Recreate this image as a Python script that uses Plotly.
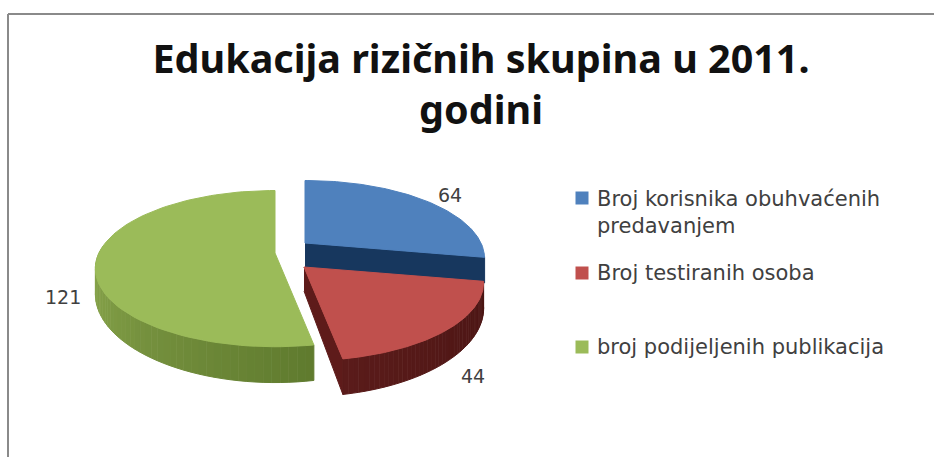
import numpy as np
import plotly.graph_objects as go

categories = ["Broj korisnika obuhvaćenih<br>predavanjem", "Broj testiranih osoba", "broj podijeljenih publikacija"]
values = [64, 44, 121]
value_labels = ["64", "44", "121"]
colors = ["#4F81BD", "#C0504D", "#9BBB59"]
title = "Edukacija rizičnih skupina u 2011.<br>godini"

# view geometry of the tilted pie (pixel-like axes)
apex = [(305, 243), (304, 267), (275, 253)]
A, B, K = 176.0, 75.0, 0.2
DEPTH, KD = 24.0, 0.33

total = sum(values)
edges = np.cumsum([0] + values) / total * 2 * np.pi


def top(i, th):
    X, Y = np.sin(th), np.cos(th)
    den = 1 + K * Y
    return apex[i][0] + A * X / den, apex[i][1] - B * Y / den


def drop(th):
    return DEPTH / (1 + KD * np.cos(th))


def mix(c1, c2, t):
    a = [int(c1[j:j + 2], 16) for j in (1, 3, 5)]
    b = [int(c2[j:j + 2], 16) for j in (1, 3, 5)]
    return "rgb(%d,%d,%d)" % tuple(round(p + (q - p) * t) for p, q in zip(a, b))


fig = go.Figure()


def poly(xs, ys, color):
    fig.add_trace(go.Scatter(x=list(xs), y=list(ys), mode="lines", fill="toself", fillcolor=color,
                             line=dict(color=color, width=1), hoverinfo="skip", showlegend=False))


def side(i, t0, t1, c0, c1, n=48):
    ang = np.linspace(t0, t1, n + 1)
    for j in range(n):
        a = np.linspace(ang[j], ang[j + 1], 4)
        x, y = top(i, a)
        d = drop(a)
        poly(list(x) + list(x[::-1]), list(y) + list((y + d)[::-1]), mix(c0, c1, (j + .5) / n))


def face(i):
    a = np.linspace(edges[i], edges[i + 1], 90)
    x, y = top(i, a)
    poly([apex[i][0]] + list(x) + [apex[i][0]], [apex[i][1]] + list(y) + [apex[i][1]], colors[i])


# green
g0 = 3 * np.pi / 2 + 0.1
side(2, g0, edges[2], "#8FAC50", "#5F7A2E")
face(2)
# blue
bx, by = top(0, edges[1])
poly([apex[0][0], bx, bx, apex[0][0]],
     [apex[0][1], by, by + drop(edges[1]), apex[0][1] + DEPTH + 1], "#17375E")
face(0)
# red
rx, ry = top(1, edges[2])
poly([apex[1][0], rx, rx, apex[1][0]],
     [apex[1][1], ry, ry + drop(edges[2]), apex[1][1] + DEPTH], "#5E1B1A")
side(1, edges[1], edges[2], "#4A1513", "#5A1B1A")
face(1)

# legend
leg_y = [198, 273, 347]
fig.add_trace(go.Scatter(x=[582] * 3, y=leg_y, mode="markers",
                         marker=dict(symbol="square", size=13, color=colors),
                         hoverinfo="skip", showlegend=False))
ann = []
for txt, y, dy in zip(categories, leg_y, [14.5, 0, 0]):
    ann.append(dict(x=595, y=y + dy, text=txt, showarrow=False, xanchor="left", yanchor="middle", align="left",
                    font=dict(family="DejaVu Sans", size=21, color="#404040")))
for txt, x, y in zip(value_labels, [450, 473, 63], [195, 376, 297]):
    ann.append(dict(x=x, y=y, text=txt, showarrow=False, font=dict(family="DejaVu Sans", size=19, color="#404040")))

fig.update_layout(
    width=934, height=457, margin=dict(l=0, r=0, t=0, b=0),
    paper_bgcolor="white", plot_bgcolor="white", showlegend=False,
    xaxis=dict(range=[0, 934], visible=False, fixedrange=True),
    yaxis=dict(range=[457, 0], visible=False, fixedrange=True),
    title=dict(text=title, x=481 / 934, xanchor="center", y=1 - 73 / 457, yanchor="top",
               font=dict(family="Noto Sans", size=39.5, color="#111111", weight="bold")),
    annotations=ann,
    shapes=[dict(type="line", x0=8, x1=934, y0=14, y1=14, line=dict(color="#8a8a8a", width=2)),
            dict(type="line", x0=8, x1=8, y0=14, y1=457, line=dict(color="#8a8a8a", width=2))],
)
fig.write_html("out.html", config=dict(displayModeBar=False),
               post_script="document.body.style.margin='0';document.body.style.overflow='hidden';")
